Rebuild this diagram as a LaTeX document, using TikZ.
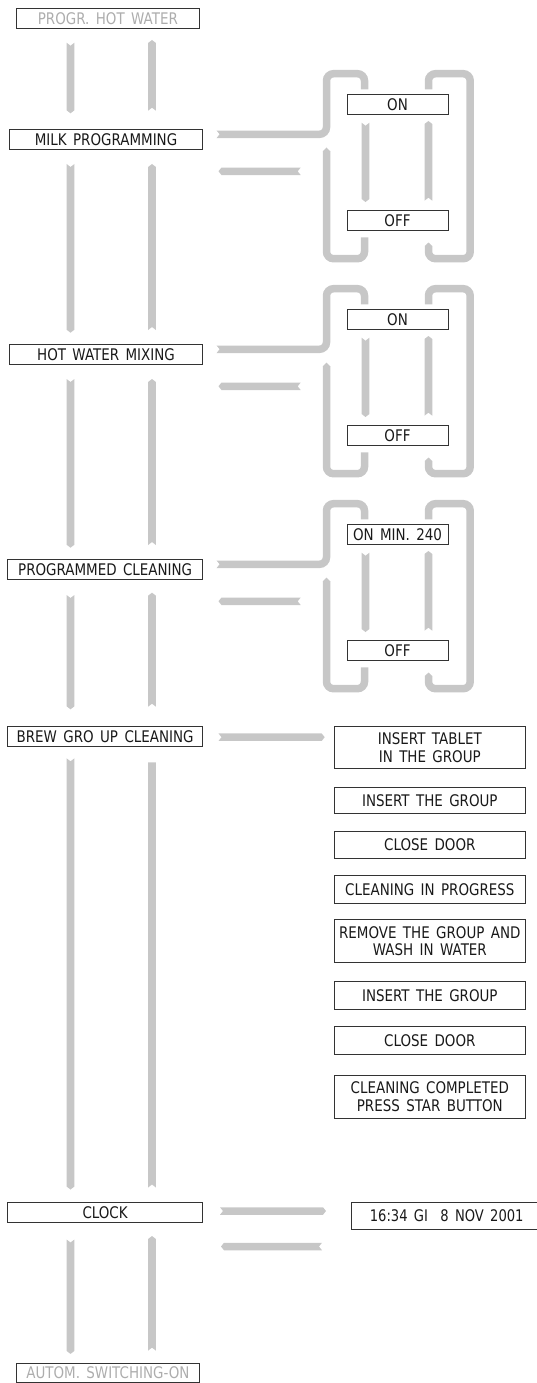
\documentclass[tikz,border=0pt]{standalone}
\usepackage{fontspec}
\newfontfamily\dfont[FakeStretch=0.84, WordSpace=1.5]{DejaVu Sans}
\newfontfamily\dfontdate[FakeStretch=0.82, WordSpace=1.5]{DejaVu Sans}
\begin{document}
\begin{tikzpicture}[x=1pt,y=-1pt,
  box/.style={draw=black!80, line width=1pt, inner sep=0pt, align=center,
    font=\dfont\fontsize{16pt}{17.6pt}\selectfont, text=black!90},
  mainbox/.style={box, minimum width=193.5pt, minimum height=20pt},
  dimbox/.style={box, minimum width=183pt, minimum height=19.5pt, text=black!32},
  onoff/.style={box, minimum width=101pt, minimum height=19.7pt},
  stepbox/.style={box, minimum width=191pt},
  bar/.style={fill=black!22, draw=none},
  band/.style={draw=black!22, line width=7.5pt, rounded corners=7pt, line cap=butt},
]
\useasboundingbox (0,0) rectangle (537,1383);

% ---- arrow macros
\newcommand\dnbar[3]{\fill[bar] (#1-3.9,#2) -- (#1,#2+3) -- (#1+3.9,#2) -- (#1+3.9,#3-3) -- (#1,#3) -- (#1-3.9,#3-3) -- cycle;}
\newcommand\upbar[3]{\fill[bar] (#1-3.9,#2+3) -- (#1,#2) -- (#1+3.9,#2+3) -- (#1+3.9,#3) -- (#1,#3-3) -- (#1-3.9,#3) -- cycle;}
\newcommand\upbarflat[3]{\fill[bar] (#1-3.9,#2) -- (#1+3.9,#2) -- (#1+3.9,#3) -- (#1,#3-3) -- (#1-3.9,#3) -- cycle;}
\newcommand\rtbar[3]{\fill[bar] (#1,#3-3.75) -- (#2-3,#3-3.75) -- (#2,#3) -- (#2-3,#3+3.75) -- (#1,#3+3.75) -- (#1+3,#3) -- cycle;}
\newcommand\ltbar[3]{\fill[bar] (#1,#3) -- (#1+3,#3-3.75) -- (#2,#3-3.75) -- (#2-3,#3) -- (#2,#3+3.75) -- (#1+3,#3+3.75) -- cycle;}

% ---- main column
\node[dimbox] (progr) at (107.9,18.3) {PROGR. HOT WATER};
\node[mainbox] (milk) at (106,139.3) {MILK PROGRAMMING};
\node[mainbox] (hwm) at (106,354.2) {HOT WATER MIXING};
\node[mainbox, minimum width=195pt] (pc) at (105.1,569.2) {PROGRAMMED CLEANING};
\node[mainbox, minimum width=195pt] (brew) at (105.1,736.3) {BREW GRO UP CLEANING};
\node[mainbox, minimum width=195pt] (clock) at (105.1,1212.5) {CLOCK};
\node[dimbox] (autom) at (107.9,1373) {AUTOM. SWITCHING-ON};

% vertical bars of main column
\dnbar{70.5}{42.7}{113.3}  \upbar{152}{40}{110.7}
\dnbar{70.5}{164}{332.7}   \upbar{152}{164}{330}
\dnbar{70.5}{379}{547.7}   \upbar{152}{379}{545}
\dnbar{70.5}{595}{709.3}   \upbar{152}{592.7}{706.7}
\dnbar{70.5}{758.3}{1189.5}\upbarflat{152}{762.3}{1187.5}
\dnbar{70.5}{1239.5}{1353.9}\upbar{152}{1236}{1350.6}

% ---- three ON/OFF groups
\foreach \k/\ontext in {0/ON, 1/ON, 2/ON MIN. 240}{
  \begin{scope}[yshift=-215*\k pt]
    \node[onoff] (on\k) at (397.5,104.2) {\ontext};
    \node[onoff] (off\k) at (397.5,220.5) {OFF};
    % inner bars
    \dnbar{365.5}{122.7}{202}
    \upbar{428.4}{121}{200.7}
    % path from main box into ON
    \draw[band] (216.4,134.3) -- (326.5,134.3) -- (326.5,73.7) -- (364.5,73.7) -- (364.5,89.3);
    \fill[white] (216.2,130.3) -- (219.4,134.3) -- (216.2,138.3) -- cycle;
    % right loop from ON to OFF
    \draw[band] (428.5,89.3) -- (428.5,73.7) -- (470.2,73.7) -- (470.2,258.7) -- (428.5,258.7) -- (428.5,245.9);
    \fill[black!22] (424.75,246.2) -- (428.5,242.5) -- (432.25,246.2) -- cycle;
    % left loop from OFF back up
    \draw[band] (364.5,237.3) -- (364.5,258.7) -- (326.5,258.7) -- (326.5,151);
    \fill[black!22] (322.75,151.3) -- (326.5,147.5) -- (330.25,151.3) -- cycle;
    % return arrow
    \ltbar{218.5}{300.7}{171.3}
  \end{scope}
}

% ---- brew group cleaning steps
\rtbar{218.5}{324.7}{737.2}
\node[stepbox, minimum height=41.6pt] (s1) at (429.8,747.5) {INSERT TABLET\\IN THE GROUP};
\node[stepbox, minimum height=26.4pt] (s2) at (429.8,800.5) {INSERT THE GROUP};
\node[stepbox, minimum height=26.7pt] (s3) at (429.8,844.7) {CLOSE DOOR};
\node[stepbox, minimum height=27.3pt] (s4) at (429.8,889.4) {CLEANING IN PROGRESS};
\node[stepbox, minimum height=43pt] (s5) at (429.8,941) {REMOVE THE GROUP AND\\WASH IN WATER};
\node[stepbox, minimum height=27.6pt] (s6) at (429.8,995.2) {INSERT THE GROUP};
\node[stepbox, minimum height=27.5pt] (s7) at (429.8,1040.5) {CLOSE DOOR};
\node[stepbox, minimum height=43pt] (s8) at (429.8,1096.5) {CLEANING COMPLETED\\PRESS STAR BUTTON};

% ---- clock
\rtbar{220}{326}{1211}
\ltbar{221}{322}{1246.5}
\node[box, minimum width=200pt, minimum height=27pt] (date) at (451,1216) {};
\node[font=\dfontdate\fontsize{16pt}{17.6pt}\selectfont, text=black!90, inner sep=0pt] (datetext) at (446.7,1216) {16:34 GI\ \ 8 NOV 2001};
\end{tikzpicture}
\end{document}
